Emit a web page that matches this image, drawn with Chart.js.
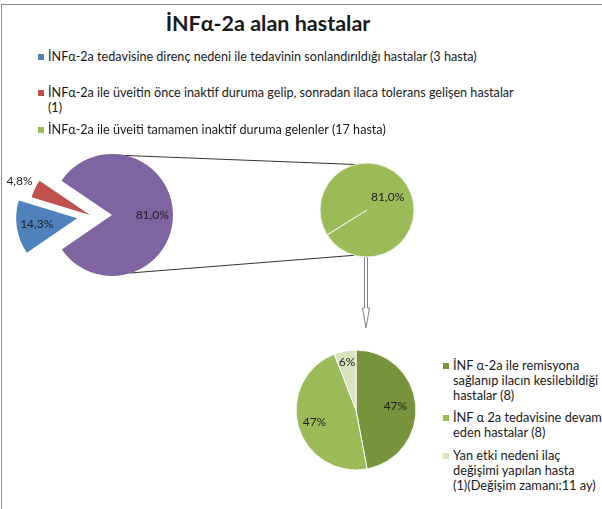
<!DOCTYPE html>
<html>
<head>
<meta charset="utf-8">
<script src="https://cdn.jsdelivr.net/npm/chart.js@4"></script>
<style>
  html, body { margin: 0; padding: 0; background: #fff; }
  #page { position: relative; width: 602px; height: 509px; overflow: hidden;
          font-family: Lato, 'Open Sans', sans-serif; color: #1a1a1a; }
  #frame { position: absolute; left: 1px; top: 4px; width: 640px; height: 540px;
           border-left: 1px solid #8c8c8c; border-top: 1px solid #8c8c8c; }
  canvas, svg { position: absolute; }
  .title { position: absolute; left: 0; top: 9px; width: 536px; text-align: center;
           font-weight: bold; font-size: 21.5px; line-height: 28px; }
  .legend { position: absolute; line-height: 15px; white-space: nowrap; }
  .legend .sw { position: absolute; left: -10px; top: 5px; width: 6px; height: 6px; }
</style>
</head>
<body>
<div id="page">
  <div id="frame"></div>
  <svg width="602" height="509">
    <line x1="113" y1="155" x2="368" y2="165" stroke="#333" stroke-width="1"/>
    <line x1="130" y1="273" x2="358" y2="255" stroke="#333" stroke-width="1"/>
    <path d="M364.5 249 H367.5 V308 H369.5 L366 328 L362.5 308 H364.5 Z" fill="#fff" stroke="#808080"/>
  </svg>
  <div class="title">İNFα-2a alan hastalar</div>
  <canvas id="pieMain" width="224" height="160" style="left:0;top:135px"></canvas>
  <canvas id="pieZoom" width="120" height="110" style="left:307px;top:155px"></canvas>
  <canvas id="pieSub" width="140" height="140" style="left:286px;top:340px"></canvas>
</div>
<script>
// ana pasta: 21 hasta
var mainLabels = [
    'İNFα-2a tedavisine direnç nedeni ile tedavinin sonlandırıldığı hastalar (3 hasta)',
    'İNFα-2a ile üveitin önce inaktif duruma gelip, sonradan ilaca tolerans gelişen hastalar\n(1)',
    'İNFα-2a ile üveiti tamamen inaktif duruma gelenler (17 hasta)'
];
var mainValues = [3, 1, 17];
var mainColors = ['#4F81BD', '#C0504D', '#8064A2'];
var mainLegendColors = ['#4F81BD', '#C0504D', '#9BBB59'];

// ikinci pasta: tamamen inaktif olan 17 hasta
var zoomValues = [17];
var zoomColors = ['#9BBB59'];

// alt pasta
var subLabels = [
    'İNF α-2a ile remisyona\nsağlanıp ilacın kesilebildiği\nhastalar (8)',
    'İNF α 2a tedavisine devam\neden hastalar (8)',
    'Yan etki nedeni ilaç\ndeğişimi yapılan hasta\n(1)(Değişim zamanı:11 ay)'
];
var subValues = [8, 8, 1];
var subColors = ['#77933C', '#9BBB59', '#D7E4BD'];

var total = mainValues.reduce(function(a, b) { return a + b; }, 0);
var subTotal = subValues.reduce(function(a, b) { return a + b; }, 0);

function pct1(v, t) { return (v / t * 100).toFixed(1).replace('.', ',') + '%'; }

// dilimleri dışarı kaydır (patlatılmış pasta)
var explodePlugin = {
    id: 'explode',
    afterDatasetUpdate: function(chart, args, opts) {
        if (!opts.dist) return;
        args.meta.data.forEach(function(arc, i) {
            var d = opts.dist[i] || 0;
            var a = (opts.angle && opts.angle[i] != null)
                ? opts.angle[i] * Math.PI / 180
                : (arc.startAngle + arc.endAngle) / 2;
            arc.x += Math.cos(a) * d;
            arc.y += Math.sin(a) * d;
        });
    }
};

// dilim etiketleri
var sliceLabels = {
    id: 'sliceLabels',
    afterDatasetsDraw: function(chart, args, opts) {
        var ctx = chart.ctx;
        var meta = chart.getDatasetMeta(0);
        ctx.save();
        ctx.font = opts.font;
        ctx.fillStyle = opts.color;
        ctx.textAlign = 'center';
        ctx.textBaseline = 'middle';
        meta.data.forEach(function(arc, i) {
            var mid = (arc.startAngle + arc.endAngle) / 2;
            var r = arc.outerRadius * opts.dist[i];
            ctx.fillText(opts.text[i], arc.x + Math.cos(mid) * r, arc.y + Math.sin(mid) * r);
        });
        ctx.restore();
    }
};

function pieOptions(radius, rotation, labelOpts, explodeOpts) {
    return {
        responsive: false,
        animation: false,
        devicePixelRatio: 1,
        radius: radius,
        rotation: rotation,
        layout: { padding: 0 },
        events: [],
        plugins: {
            legend: { display: false },
            tooltip: { enabled: false },
            title: { display: false },
            sliceLabels: labelOpts,
            explode: explodeOpts || {}
        }
    };
}

new Chart(document.getElementById('pieMain'), {
    type: 'pie',
    data: {
        labels: mainLabels,
        datasets: [{ data: mainValues, backgroundColor: mainColors, borderWidth: 0 }]
    },
    options: pieOptions(61, 235.5, {
        font: '12px Lato, sans-serif', color: '#222',
        dist: [0.67, 1.28, 0.66],
        text: mainValues.map(function(v) { return pct1(v, total); })
    }, { dist: [35, 22, 0], angle: [174.6, 180, null] }),
    plugins: [explodePlugin, sliceLabels]
});

new Chart(document.getElementById('pieZoom'), {
    type: 'pie',
    data: {
        labels: [mainLabels[2]],
        datasets: [{ data: zoomValues, backgroundColor: zoomColors, borderColor: '#eef3e2', borderWidth: 1 }]
    },
    options: pieOptions(47, 238, {
        font: '12px Lato, sans-serif', color: '#222',
        dist: [0.52],
        text: zoomValues.map(function(v) { return pct1(v, total); })
    }),
    plugins: [sliceLabels]
});

new Chart(document.getElementById('pieSub'), {
    type: 'pie',
    data: {
        labels: subLabels,
        datasets: [{ data: subValues, backgroundColor: subColors, borderColor: '#fff', borderWidth: 1 }]
    },
    options: pieOptions(60, 0, {
        font: '12px Lato, sans-serif', color: '#222',
        dist: [0.66, 0.72, 0.82],
        text: subValues.map(function(v) { return Math.round(v / subTotal * 100) + '%'; })
    }),
    plugins: [sliceLabels]
});

// açıklamalar
function addLegend(labels, colors, left, tops, size) {
    var page = document.getElementById('page');
    labels.forEach(function(txt, i) {
        var el = document.createElement('div');
        el.className = 'legend';
        el.style.left = left + 'px';
        el.style.top = tops[i] + 'px';
        el.style.fontSize = size + 'px';
        var sw = document.createElement('span');
        sw.className = 'sw';
        sw.style.background = colors[i];
        el.appendChild(sw);
        txt.split('\n').forEach(function(line, j) {
            if (j) el.appendChild(document.createElement('br'));
            el.appendChild(document.createTextNode(line));
        });
        page.appendChild(el);
    });
}
addLegend(mainLabels, mainLegendColors, 48, [49, 85, 122], 12.6);
addLegend(subLabels, subColors, 453, [358, 410, 448], 12.8);
</script>
</body>
</html>
